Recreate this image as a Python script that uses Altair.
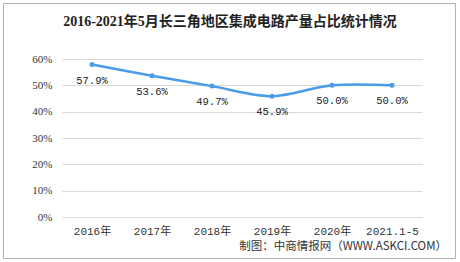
import altair as alt
import pandas as pd

years = ["2016年", "2017年", "2018年", "2019年", "2020年", "2021.1-5"]
shares = [0.579, 0.536, 0.497, 0.459, 0.500, 0.500]
labels = ["57.9%", "53.6%", "49.7%", "45.9%", "50.0%", "50.0%"]
title_text = "2016-2021年5月长三角地区集成电路产量占比统计情况"
source_text = "制图：中商情报网（WWW.ASKCI.COM）"

df = pd.DataFrame({"year": years, "share": shares, "label": labels})
one = pd.DataFrame({"t": [title_text], "s": [source_text]})

W, H = 360, 158
PL, PT, PR, PB = 62, 59, 38, 45

x = alt.X("year:N", sort=years, scale=alt.Scale(type="point", padding=0.5),
          axis=alt.Axis(title=None, labelAngle=0, domain=False, ticks=False,
                        labelPadding=8, labelFontSize=11, labelColor="#333",
                        labelFont="Liberation Mono, Noto Sans CJK SC", grid=False))
y = alt.Y("share:Q", scale=alt.Scale(domain=[0, 0.6]),
          axis=alt.Axis(title=None, format=".0%", values=[0, 0.1, 0.2, 0.3, 0.4, 0.5, 0.6],
                        domain=False, ticks=False, labelPadding=10, labelFontSize=11,
                        labelColor="#333", labelFont="Liberation Serif",
                        gridColor="#d9d9d9", gridWidth=1))

line = alt.Chart(df).mark_line(color="#4a9be9", strokeWidth=2.5, interpolate="catmull-rom").encode(x=x, y=y)
pts = alt.Chart(df).mark_point(color="#4a9be9", filled=True, size=25, opacity=1).encode(x=x, y=y)
txt = alt.Chart(df).mark_text(dy=16, fontSize=10.5, font="Liberation Mono", color="#222").encode(
    x=x, y=y, text="label:N")

title = alt.Chart(one).mark_text(fontSize=14, fontWeight="bold", font="Liberation Serif, Noto Sans CJK SC",
                                 color="#222", align="center", baseline="middle").encode(
    x=alt.value(230 - PL), y=alt.value(22 - PT), text="t:N")
source = alt.Chart(one).mark_text(fontSize=11.5, font="Noto Sans CJK SC", color="#333",
                                  align="right", baseline="middle").encode(
    x=alt.value(447 - PL), y=alt.value(247 - PT), text="s:N")
border = alt.Chart(one).mark_rect(fill=None, stroke="#b0b0b0", strokeWidth=1).encode(
    x=alt.value(3.5 - PL), x2=alt.value(455.5 - PL), y=alt.value(3.5 - PT), y2=alt.value(258.5 - PT))

chart = alt.layer(border, line, pts, txt, title, source).properties(
    width=W, height=H,
    padding={"left": PL, "top": PT, "right": PR, "bottom": PB},
    autosize=alt.AutoSizeParams(type="none"),
    background="white",
).configure_view(stroke=None)

chart.save("out.html", embed_options={"renderer": "svg", "actions": False})
